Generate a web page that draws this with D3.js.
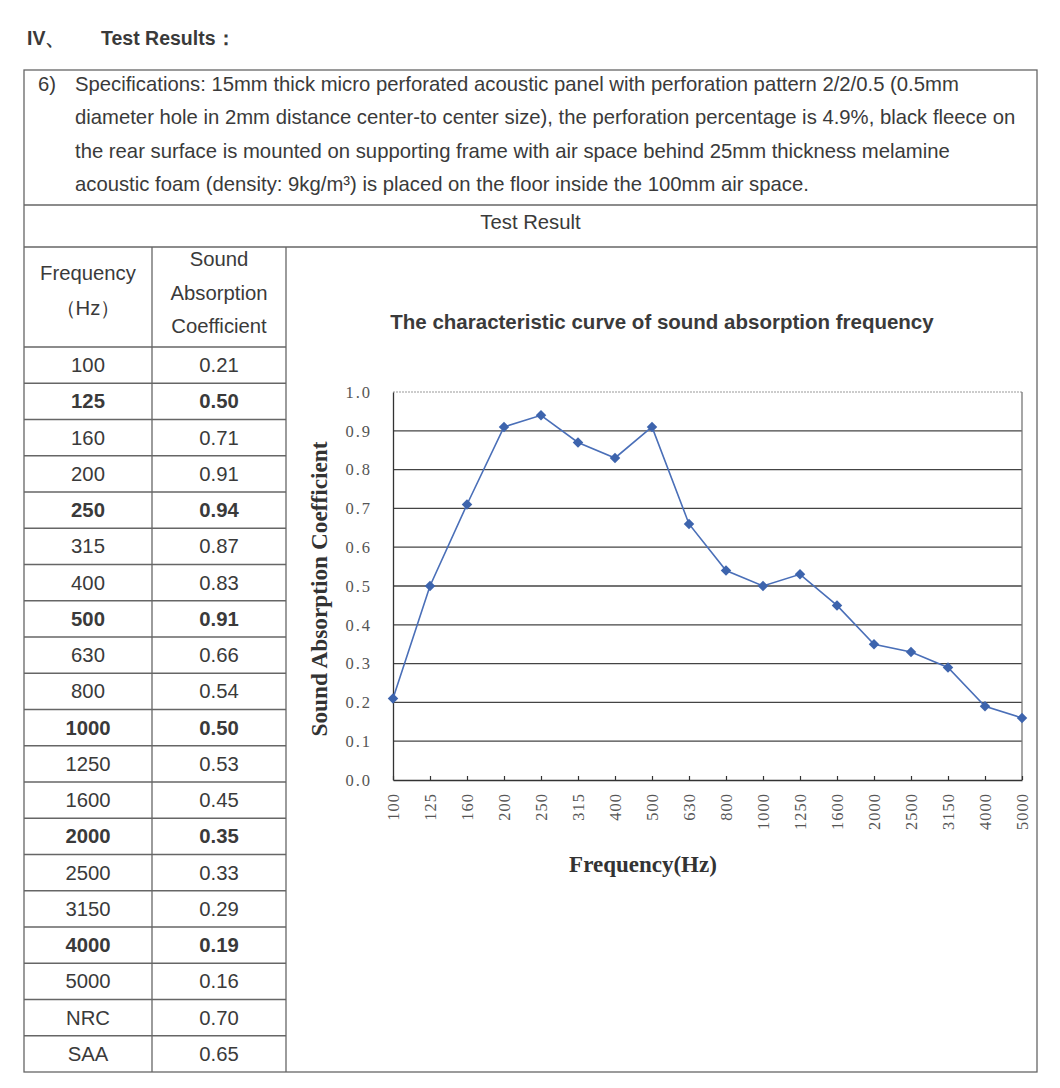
<!DOCTYPE html>
<html><head><meta charset="utf-8">
<script src="https://cdn.jsdelivr.net/npm/d3@7"></script>
<style>
html,body{margin:0;padding:0;background:#fff;}
svg{display:block;}
</style></head>
<body>
<svg id="c" width="1060" height="1088"></svg>
<script>
const frequencies = ["100","125","160","200","250","315","400","500","630","800","1000","1250","1600","2000","2500","3150","4000","5000"];
const coefficients = [0.21,0.50,0.71,0.91,0.94,0.87,0.83,0.91,0.66,0.54,0.50,0.53,0.45,0.35,0.33,0.29,0.19,0.16];
const tableValues = ["0.21","0.50","0.71","0.91","0.94","0.87","0.83","0.91","0.66","0.54","0.50","0.53","0.45","0.35","0.33","0.29","0.19","0.16"];
const boldRows = ["125","250","500","1000","2000","4000"];
const summaryLabels = ["NRC","SAA"];
const summaryValues = ["0.70","0.65"];
const yTicks = [0,0.1,0.2,0.3,0.4,0.5,0.6,0.7,0.8,0.9,1.0];
const specLines = [
  "Specifications: 15mm thick micro perforated acoustic panel with perforation pattern 2/2/0.5 (0.5mm",
  "diameter hole in 2mm distance center-to center size), the perforation percentage is 4.9%, black fleece on",
  "the rear surface is mounted on supporting frame with air space behind 25mm thickness melamine",
  "acoustic foam (density: 9kg/m³) is placed on the floor inside the 100mm air space."
];

const svg = d3.select("#c");
const SANS = "'Liberation Sans', Arial, sans-serif";
const SERIF = "'Liberation Serif', 'Times New Roman', serif";
const TXT = "#3a3a3a";
const LINE = "#666";
const FS = 20.3;

// Heading
svg.append("text").attr("x",27).attr("y",45).attr("font-family",SANS).attr("font-weight","bold")
  .attr("font-size",19.5).attr("fill",TXT).text("IV、");
svg.append("text").attr("x",101).attr("y",45).attr("font-family",SANS).attr("font-weight","bold")
  .attr("font-size",19.5).attr("fill",TXT).text("Test Results：");

// Table geometry
const L = 24, R = 1037, T = 70, specB = 205, resB = 247, headB = 347, B = 1072;
const c1 = 152, c2 = 286;
const g = svg.append("g").attr("stroke",LINE).attr("stroke-width",1.3).attr("fill","none");
g.append("rect").attr("x",L).attr("y",T).attr("width",R-L).attr("height",B-T);
g.append("line").attr("x1",L).attr("x2",R).attr("y1",specB).attr("y2",specB);
g.append("line").attr("x1",L).attr("x2",R).attr("y1",resB).attr("y2",resB);
g.append("line").attr("x1",c1).attr("x2",c1).attr("y1",resB).attr("y2",B);
g.append("line").attr("x1",c2).attr("x2",c2).attr("y1",resB).attr("y2",B);

// Spec text
svg.append("text").attr("x",38).attr("y",91).attr("font-family",SANS).attr("font-size",FS)
  .attr("fill",TXT).text("6)");
svg.selectAll("text.spec").data(specLines).join("text").attr("class","spec")
  .attr("x",75).attr("y",(d,i)=>91+i*33.3).attr("font-family",SANS).attr("font-size",FS)
  .attr("fill",TXT).text(d=>d);
svg.append("text").attr("x",(L+R)/2).attr("y",229).attr("text-anchor","middle")
  .attr("font-family",SANS).attr("font-size",FS).attr("fill",TXT).text("Test Result");

// Table header
const cx1 = (L+c1)/2, cx2 = (c1+c2)/2;
[["Frequency",280],["（Hz）",315]].forEach(([t,y])=>svg.append("text").attr("x",cx1).attr("y",y)
  .attr("text-anchor","middle").attr("font-family",SANS).attr("font-size",FS).attr("fill",TXT).text(t));
[["Sound",266],["Absorption",300],["Coefficient",333]].forEach(([t,y])=>svg.append("text").attr("x",cx2).attr("y",y)
  .attr("text-anchor","middle").attr("font-family",SANS).attr("font-size",FS).attr("fill",TXT).text(t));

// Table rows
const rows = frequencies.map((f,i)=>({f, v: tableValues[i], b: boldRows.includes(f)}))
  .concat(summaryLabels.map((s,i)=>({f:s, v:summaryValues[i], b:false})));
const rowH = (B-headB)/rows.length;
rows.forEach((r,i)=>{
  const y0 = headB + i*rowH;
  svg.append("line").attr("x1",L).attr("x2",c2).attr("y1",y0).attr("y2",y0)
    .attr("stroke",LINE).attr("stroke-width",1.3);
  [[cx1,r.f],[cx2,r.v]].forEach(([x,t])=>svg.append("text").attr("x",x).attr("y",y0+rowH/2+7)
    .attr("text-anchor","middle").attr("font-family",SANS).attr("font-size",FS)
    .attr("font-weight",r.b?"bold":"normal").attr("fill",TXT).text(t));
});

// Chart
const px0 = 393, px1 = 1022, py0 = 780, py1 = 392;
const x = d3.scalePoint().domain(frequencies).range([px0,px1]);
const y = d3.scaleLinear().domain([0,1]).range([py0,py1]);

svg.append("text").attr("x",662).attr("y",329).attr("text-anchor","middle")
  .attr("font-family",SANS).attr("font-weight","bold").attr("font-size",20.5).attr("fill",TXT)
  .text("The characteristic curve of sound absorption frequency");

// gridlines
svg.append("g").selectAll("line").data(yTicks.filter(v=>v>0 && v<1)).join("line")
  .attr("x1",px0).attr("x2",px1).attr("y1",d=>y(d)).attr("y2",d=>y(d))
  .attr("stroke","#444").attr("stroke-width",1.3);
// top border (light dotted) and right border
svg.append("line").attr("x1",px0).attr("x2",px1).attr("y1",y(1)).attr("y2",y(1))
  .attr("stroke","#999").attr("stroke-width",1).attr("stroke-dasharray","2,1");
svg.append("line").attr("x1",px1).attr("x2",px1).attr("y1",y(1)).attr("y2",y(0))
  .attr("stroke","#777").attr("stroke-width",1.3);

// y axis
const yAxis = d3.axisLeft(y).tickValues(yTicks).tickFormat(d3.format(".1f")).tickSize(0).tickPadding(21);
const ya = svg.append("g").attr("transform",`translate(${px0},0)`).call(yAxis);
ya.select(".domain").attr("stroke","#333").attr("stroke-width",1.3);
ya.selectAll("text").attr("font-family",SERIF).attr("font-size",16.5).attr("fill","#555")
  .attr("letter-spacing","2px");

// x axis
const xAxis = d3.axisBottom(x).tickSizeInner(-4).tickSizeOuter(0).tickPadding(0);
const xa = svg.append("g").attr("transform",`translate(0,${py0})`).call(xAxis);
xa.select(".domain").attr("stroke","#333").attr("stroke-width",1.3);
xa.selectAll(".tick line").attr("stroke","#333").attr("stroke-width",1.2);
xa.selectAll("text").attr("font-family",SERIF).attr("font-size",16.5).attr("fill","#555")
  .attr("letter-spacing","1px")
  .attr("text-anchor","end").attr("transform","translate(0,13) rotate(-90)")
  .attr("x",0).attr("y",0).attr("dy","0.35em");

// axis titles
svg.append("text").attr("transform","translate(327,589) rotate(-90)").attr("text-anchor","middle")
  .attr("font-family",SERIF).attr("font-weight","bold").attr("font-size",23.3).attr("fill","#333")
  .text("Sound Absorption Coefficient");
svg.append("text").attr("x",643).attr("y",872).attr("text-anchor","middle")
  .attr("font-family",SERIF).attr("font-weight","bold").attr("font-size",23).attr("fill","#333")
  .text("Frequency(Hz)");

// series
const data = frequencies.map((f,i)=>({f, v: coefficients[i]}));
svg.append("path").datum(data)
  .attr("d", d3.line().x(d=>x(d.f)).y(d=>y(d.v)))
  .attr("fill","none").attr("stroke","#4a6fb8").attr("stroke-width",1.6);
svg.append("g").selectAll("path").data(data).join("path")
  .attr("d", d3.symbol().type(d3.symbolDiamond2).size(70))
  .attr("transform", d=>`translate(${x(d.f)},${y(d.v)})`)
  .attr("fill","#3d64ad");
</script>
</body></html>
